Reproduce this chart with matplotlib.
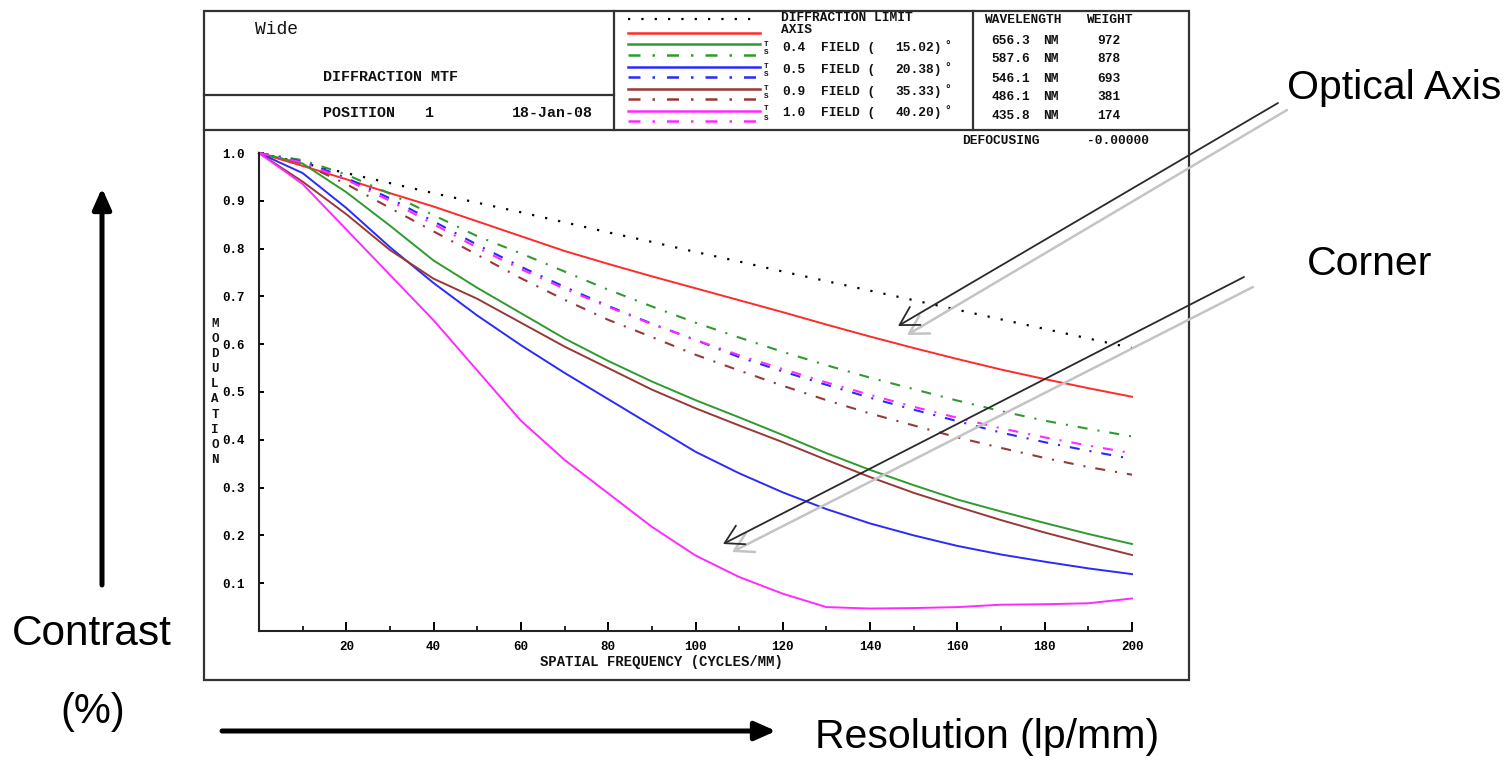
import matplotlib
matplotlib.use("Agg")
import matplotlib.pyplot as plt
from matplotlib.patches import FancyArrowPatch, Rectangle
from matplotlib.ticker import FixedLocator

# ---------------- data ----------------
freq = [0, 10, 20, 30, 40, 50, 60, 70, 80, 90, 100,
        110, 120, 130, 140, 150, 160, 170, 180, 190, 200]

diffraction = [1.0, 0.979, 0.958, 0.937, 0.916, 0.896, 0.876, 0.855, 0.834, 0.814, 0.793,
               0.773, 0.752, 0.732, 0.712, 0.692, 0.672, 0.652, 0.632, 0.612, 0.592]
axis_t = [1.0, 0.973, 0.945, 0.916, 0.888, 0.857, 0.826, 0.795, 0.768, 0.742, 0.717,
          0.692, 0.667, 0.641, 0.616, 0.592, 0.569, 0.547, 0.527, 0.508, 0.49]

f04_t = [1.0, 0.978, 0.918, 0.848, 0.775, 0.718, 0.665, 0.612, 0.565, 0.522, 0.483,
         0.447, 0.41, 0.372, 0.337, 0.305, 0.275, 0.25, 0.226, 0.203, 0.182]
f04_s = [1.0, 0.985, 0.955, 0.915, 0.87, 0.826, 0.79, 0.752, 0.714, 0.679, 0.645,
         0.614, 0.584, 0.556, 0.53, 0.506, 0.482, 0.46, 0.44, 0.423, 0.407]

f05_t = [1.0, 0.958, 0.885, 0.803, 0.728, 0.66, 0.598, 0.54, 0.485, 0.43, 0.375,
         0.33, 0.29, 0.255, 0.225, 0.2, 0.178, 0.16, 0.145, 0.131, 0.119]
f05_s = [1.0, 0.982, 0.948, 0.905, 0.857, 0.808, 0.762, 0.72, 0.68, 0.643, 0.609,
         0.573, 0.543, 0.515, 0.488, 0.463, 0.439, 0.415, 0.395, 0.377, 0.36]

f09_t = [1.0, 0.94, 0.872, 0.797, 0.737, 0.695, 0.645, 0.595, 0.55, 0.505, 0.466,
         0.43, 0.395, 0.358, 0.322, 0.289, 0.26, 0.232, 0.206, 0.182, 0.159]
f09_s = [1.0, 0.978, 0.935, 0.885, 0.836, 0.787, 0.738, 0.693, 0.651, 0.615, 0.578,
         0.545, 0.513, 0.483, 0.455, 0.43, 0.405, 0.383, 0.362, 0.343, 0.327]

f10_t = [1.0, 0.935, 0.84, 0.745, 0.65, 0.545, 0.44, 0.358, 0.288, 0.218, 0.158,
         0.113, 0.078, 0.05, 0.047, 0.048, 0.05, 0.055, 0.056, 0.058, 0.068]
f10_s = [1.0, 0.98, 0.944, 0.9, 0.851, 0.802, 0.757, 0.716, 0.678, 0.642, 0.609,
         0.577, 0.548, 0.52, 0.494, 0.469, 0.446, 0.424, 0.405, 0.388, 0.372]

x_ticks_major = [20, 40, 60, 80, 100, 120, 140, 160, 180, 200]
x_ticks_minor = [10, 30, 50, 70, 90, 110, 130, 150, 170, 190]
y_ticks = [0.1, 0.2, 0.3, 0.4, 0.5, 0.6, 0.7, 0.8, 0.9, 1.0]
y_tick_labels = ["0.1", "0.2", "0.3", "0.4", "0.5", "0.6", "0.7", "0.8", "0.9", "1.0"]

field_labels = ["0.4", "0.5", "0.9", "1.0"]
field_angles = ["15.02)", "20.38)", "35.33)", "40.20)"]
wavelengths = ["656.3", "587.6", "546.1", "486.1", "435.8"]
weights = ["972", "878", "693", "381", "174"]

# ---------------- styles ----------------
RED = "#ff2a2a"
GREEN = "#2f9a2f"
BLUE = "#2a2aff"
BROWN = "#983838"
MAGENTA = "#ff2aff"
MONO = "Liberation Mono"
SANS = "Liberation Sans"
DOT = (0, (1, 5))
DASHDOT = (0, (4.8, 4.8, 1, 4.8))

W, H = 1509, 760
fig = plt.figure(figsize=(W / 100, H / 100), dpi=100)
fig.patch.set_facecolor("white")

# plot axes (pixel box: x 259..1132, y 153..631)
ax = fig.add_axes([259 / W, 1 - 631 / H, (1132 - 259) / W, (631 - 153) / H])
ax.set_xlim(0, 200)
ax.set_ylim(0, 1.0)
ax.patch.set_alpha(0)
for s in ("top", "right"):
    ax.spines[s].set_visible(False)
for s in ("left", "bottom"):
    ax.spines[s].set_linewidth(1.5)
    ax.spines[s].set_color("#222222")

series = [
    (diffraction, "black", DOT, 1.6),
    (axis_t, RED, "-", 1.4),
    (f04_t, GREEN, "-", 1.4), (f04_s, GREEN, DASHDOT, 1.5),
    (f05_t, BLUE, "-", 1.4), (f05_s, BLUE, DASHDOT, 1.5),
    (f09_t, BROWN, "-", 1.4), (f09_s, BROWN, DASHDOT, 1.5),
    (f10_t, MAGENTA, "-", 1.4), (f10_s, MAGENTA, DASHDOT, 1.5),
]
for vals, col, ls, lw in series:
    ax.plot(freq, vals, color=col, linestyle=ls, linewidth=lw, clip_on=False)

ax.xaxis.set_major_locator(FixedLocator(x_ticks_major))
ax.xaxis.set_minor_locator(FixedLocator(x_ticks_minor))
ax.yaxis.set_major_locator(FixedLocator(y_ticks))
ax.set_xticklabels([str(v) for v in x_ticks_major], fontfamily=MONO, fontsize=9, fontweight="bold")
ax.set_yticklabels(y_tick_labels, fontfamily=MONO, fontsize=9, fontweight="bold")
ax.tick_params(axis="x", which="major", direction="in", length=6.5, width=1.4, pad=7)
ax.tick_params(axis="x", which="minor", direction="in", length=3.6, width=1.2)
ax.tick_params(axis="y", which="major", direction="in", length=3.6, width=1.4, pad=10)

# overlay in pixel coordinates
ov = fig.add_axes([0, 0, 1, 1], zorder=5)
ov.set_xlim(0, W)
ov.set_ylim(H, 0)
ov.axis("off")
ov.patch.set_alpha(0)

FR = "#333333"
ov.add_patch(Rectangle((204, 11), 985, 669, fill=False, edgecolor=FR, linewidth=1.6))
ov.plot([204, 1189], [130, 130], color=FR, lw=1.6)
ov.plot([204, 614], [95, 95], color=FR, lw=1.6)
ov.plot([614, 614], [11, 130], color=FR, lw=1.6)
ov.plot([973, 973], [11, 130], color=FR, lw=1.6)

def t(x, y, s, size=9.5, weight="bold", family=MONO, **kw):
    ov.text(x, y, s, fontsize=size, fontweight=weight, family=family,
            va="center", ha=kw.pop("ha", "left"), color=kw.pop("color", "#111111"), **kw)

# header
t(255, 30, "Wide", size=13, weight="normal")
t(323, 77, "DIFFRACTION MTF", size=10.8)
t(323, 113, "POSITION", size=10.8)
t(425, 113, "1", size=10.8)
t(512, 113, "18-Jan-08", size=10.8)

# legend samples
ov.plot([628, 760], [19, 19], color="black", linestyle=DOT, lw=1.6)
ov.plot([628, 760], [32.5, 32.5], color=RED, lw=1.8)
leg_cols = [GREEN, BLUE, BROWN, MAGENTA]
leg_y_t = [44, 66.5, 88.5, 110.5]
leg_y_s = [55, 77, 98.5, 121]
leg_y_txt = [48, 70, 92, 113]
for c, yt, ys, yl, fl, fa in zip(leg_cols, leg_y_t, leg_y_s, leg_y_txt, field_labels, field_angles):
    ov.plot([628, 760], [yt, yt], color=c, lw=1.8)
    ov.plot([628, 760], [ys, ys], color=c, linestyle=DASHDOT, lw=1.8)
    t(764, yl - 4, "T", size=5.5)
    t(764, yl + 5, "S", size=5.5)
    t(782, yl, fl, size=9.3)
    t(821, yl, "FIELD (", size=9.3)
    t(895, yl, fa, size=9.3)
    t(944, yl - 2, "°", size=8)
t(781, 18, "DIFFRACTION LIMIT", size=9.3)
t(781, 30, "AXIS", size=9.3)

# wavelength table
t(984, 20, "WAVELENGTH", size=9.3)
t(1086, 20, "WEIGHT", size=9.3)
for i, (wl, wt) in enumerate(zip(wavelengths, weights)):
    y = [41, 59, 79, 97, 116][i]
    t(991, y, wl, size=9.3)
    t(1043, y, "NM", size=9.3)
    t(1097, y, wt, size=9.3)
t(962, 141, "DEFOCUSING", size=9.3)
t(1087, 141, "-0.00000", size=9.3)

# axis titles
for i, ch in enumerate("MODULATION"):
    t(215, 324 + i * 15.1, ch, size=9, ha="center")
t(661, 662, "SPATIAL FREQUENCY (CYCLES/MM)", size=10, ha="center")

# big annotations
t(1287, 88, "Optical Axis", size=29.5, weight="normal", family=SANS, color="black")
t(1307, 264, "Corner", size=29.5, weight="normal", family=SANS, color="black")
t(12, 634, "Contrast", size=30.5, weight="normal", family=SANS, color="black")
t(60, 712, "(%)", size=30, weight="normal", family=SANS, color="black")
t(815, 737, "Resolution (lp/mm)", size=29.5, weight="normal", family=SANS, color="black")

def thick_arrow(p0, p1):
    ov.add_patch(FancyArrowPatch(p0, p1, arrowstyle="-|>,head_length=0.45,head_width=0.2",
                                 mutation_scale=28, lw=3.6, color="black",
                                 shrinkA=0, shrinkB=0))

thick_arrow((102, 585), (102, 188))
thick_arrow((222, 731), (776, 731))

def thin_arrow(p0, p1, col, lw):
    ov.add_patch(FancyArrowPatch(p0, p1, arrowstyle="->,head_length=13,head_width=7.5",
                                 mutation_scale=1, lw=lw, color=col,
                                 shrinkA=0, shrinkB=0))

thin_arrow((1287, 110), (907, 335), "#c4c4c4", 1.8)
thin_arrow((1278, 103), (898, 326), "#2a2a2a", 1.3)
thin_arrow((1253, 287), (732, 552), "#c4c4c4", 1.8)
thin_arrow((1244, 277), (723, 544), "#2a2a2a", 1.3)

fig.savefig("out.png", dpi=100, facecolor="white")
